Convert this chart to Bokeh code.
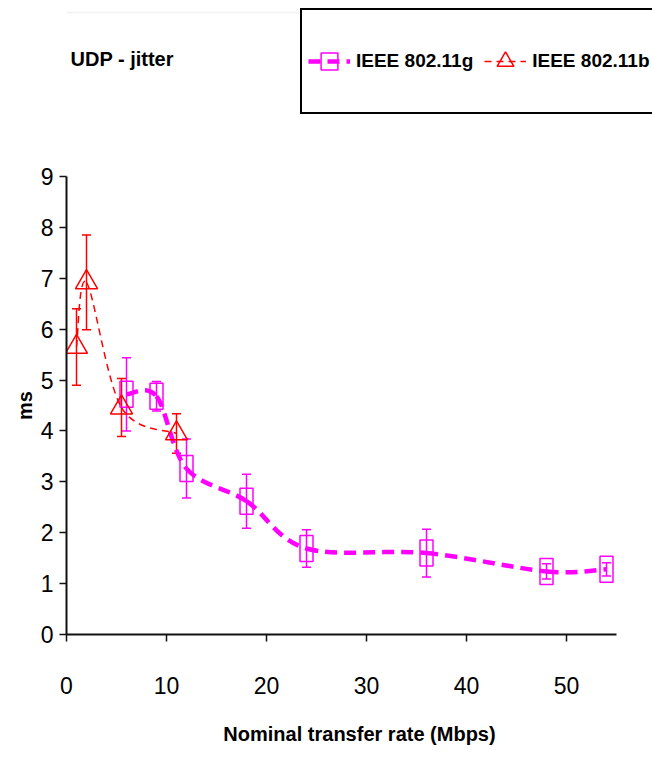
from bokeh.plotting import figure
from bokeh.layouts import column
from bokeh.models import (Range1d, Legend, LegendItem, Whisker, TeeHead, ColumnDataSource,
                          Label, FixedTicker, BoxAnnotation)
from bokeh.embed import file_html
from bokeh.resources import INLINE

# ---- data ----
rate_g = [6, 9, 12, 18, 24, 36, 48, 54]
jitter_g = [4.72, 4.68, 3.26, 2.62, 1.69, 1.60, 1.24, 1.28]
err_g = [0.72, 0.29, 0.58, 0.53, 0.37, 0.47, 0.15, 0.13]

rate_b = [1, 2, 5.5, 11]
jitter_b = [5.65, 6.92, 4.46, 3.95]
err_b = [0.75, 0.93, 0.57, 0.39]

x_ticks = [0, 10, 20, 30, 40, 50]
y_ticks = [0, 1, 2, 3, 4, 5, 6, 7, 8, 9]

title_text = "UDP - jitter"
x_label = "Nominal transfer rate (Mbps)"
y_label = "ms"
name_g = "IEEE 802.11g"
name_b = "IEEE 802.11b"

MAG = "#FF00FF"
RED = "#FF0000"
FONT = "Liberation Sans"
DASH_G = "12 7"
DASH_B = "7 5"


def smooth(xs, ys, t=1 / 6):
    """Bezier control points for an Excel-style smoothed line through the data."""
    n = len(xs)
    out = dict(x0=[], y0=[], x1=[], y1=[], cx0=[], cy0=[], cx1=[], cy1=[])
    for i in range(n - 1):
        p0 = (xs[max(i - 1, 0)], ys[max(i - 1, 0)])
        p1 = (xs[i], ys[i])
        p2 = (xs[i + 1], ys[i + 1])
        p3 = (xs[min(i + 2, n - 1)], ys[min(i + 2, n - 1)])
        out["x0"].append(p1[0]); out["y0"].append(p1[1])
        out["x1"].append(p2[0]); out["y1"].append(p2[1])
        out["cx0"].append(p1[0] + (p2[0] - p0[0]) * t)
        out["cy0"].append(p1[1] + (p2[1] - p0[1]) * t)
        out["cx1"].append(p2[0] - (p3[0] - p1[0]) * t)
        out["cy1"].append(p2[1] - (p3[1] - p1[1]) * t)
    return out


W = 652
LEFT = 66
TOP_H = 156
MAIN_H = 764 - TOP_H

# ================= header: title + legend =================
top = figure(width=W, height=TOP_H, output_backend="svg", toolbar_location=None, title=None,
             x_range=Range1d(LEFT, W), y_range=Range1d(TOP_H, 0),
             x_axis_type=None, y_axis_type=None,
             min_border_left=LEFT, min_border_right=0, min_border_top=0, min_border_bottom=0)
top.outline_line_color = None
top.grid.visible = False
top.background_fill_color = "white"
top.border_fill_color = "white"
# legend-only renderers, mapped through a range that keeps them out of view
top.extra_x_ranges = {"legend": Range1d(1000, 2000)}

# light-gray chart-area border line
top.add_layout(BoxAnnotation(left=0, right=W + 50, top=12, bottom=12,
                             fill_alpha=0, line_color="#d0d0d0", line_width=1.5))

lg_line_g = top.line(x=rate_g, y=jitter_g, x_range_name="legend",
                     line_color=MAG, line_width=4.5, line_dash=DASH_G)
lg_mark_g = top.scatter(x=rate_g, y=jitter_g, x_range_name="legend", marker="square", size=0,
                        fill_color=None, line_color=MAG, line_width=1.5)
lg_line_b = top.line(x=rate_b, y=jitter_b, x_range_name="legend",
                     line_color=RED, line_width=1.5, line_dash=DASH_B)
lg_mark_b = top.scatter(x=rate_b, y=jitter_b, x_range_name="legend", marker="triangle", size=0,
                        fill_color=None, line_color=RED, line_width=1.5)

legend = Legend(items=[LegendItem(label=name_g, renderers=[lg_line_g, lg_mark_g]),
                       LegendItem(label=name_b, renderers=[lg_line_b, lg_mark_b])],
                location=(300 - LEFT, 42), orientation="horizontal",
                glyph_width=42, glyph_height=90, label_height=90,
                label_standoff=6, spacing=11, padding=6, margin=0,
                border_line_color="black", border_line_width=2, border_line_alpha=1,
                background_fill_color="white", background_fill_alpha=1,
                label_text_font=FONT, label_text_font_size="19px",
                label_text_font_style="bold", label_text_color="black")
top.add_layout(legend)

top.add_layout(Label(x=70, y=58, text=title_text, text_baseline="middle",
                     text_font=FONT, text_font_size="20px", text_font_style="bold",
                     text_color="black"))

# ================= main chart =================
p = figure(width=W, height=MAIN_H, output_backend="svg", toolbar_location=None, title=None,
           x_range=Range1d(0, 58.6), y_range=Range1d(0, 9),
           min_border_left=LEFT, min_border_right=0, min_border_top=20, min_border_bottom=130)
p.outline_line_color = None
p.grid.visible = False
p.background_fill_color = "white"
p.border_fill_color = "white"

for ax in (p.xaxis[0], p.yaxis[0]):
    ax.axis_line_width = 2
    ax.axis_line_color = "#111111"
    ax.major_tick_line_width = 1.5
    ax.major_tick_line_color = "#111111"
    ax.major_tick_in = 0
    ax.major_tick_out = 7
    ax.minor_tick_line_color = None
    ax.major_label_text_font = FONT
    ax.major_label_text_font_size = "23px"
    ax.major_label_text_color = "black"
    ax.axis_label_text_font = FONT
    ax.axis_label_text_font_size = "20px"
    ax.axis_label_text_font_style = "bold"
    ax.axis_label_text_color = "black"

p.xaxis.ticker = FixedTicker(ticks=x_ticks)
p.yaxis.ticker = FixedTicker(ticks=y_ticks)
p.xaxis.bounds = (0, 55)
p.xaxis.axis_label = x_label
p.yaxis.axis_label = y_label
p.xaxis.major_label_standoff = 35
p.xaxis.axis_label_standoff = 26
p.yaxis.major_label_standoff = 6
p.yaxis.axis_label_standoff = 2

# ---- 802.11g ----
src_g = ColumnDataSource(dict(x=rate_g, y=jitter_g,
                              upper=[v + e for v, e in zip(jitter_g, err_g)],
                              lower=[v - e for v, e in zip(jitter_g, err_g)]))
p.bezier(source=ColumnDataSource(smooth(rate_g, jitter_g)), x0="x0", y0="y0", x1="x1", y1="y1",
         cx0="cx0", cy0="cy0", cx1="cx1", cy1="cy1",
         line_color=MAG, line_width=4.5, line_dash=DASH_G)
p.add_layout(Whisker(source=src_g, base="x", upper="upper", lower="lower", dimension="height",
                     line_color=MAG, line_width=1.5,
                     upper_head=TeeHead(size=9, line_color=MAG, line_width=1.5),
                     lower_head=TeeHead(size=9, line_color=MAG, line_width=1.5)))
p.rect(x="x", y="y", width=13, height=26, width_units="screen", height_units="screen",
       source=src_g, fill_color=None, line_color=MAG, line_width=1.5)

# ---- 802.11b ----
src_b = ColumnDataSource(dict(x=rate_b, y=jitter_b,
                              upper=[v + e for v, e in zip(jitter_b, err_b)],
                              lower=[v - e for v, e in zip(jitter_b, err_b)]))
p.bezier(source=ColumnDataSource(smooth(rate_b, jitter_b)), x0="x0", y0="y0", x1="x1", y1="y1",
         cx0="cx0", cy0="cy0", cx1="cx1", cy1="cy1",
         line_color=RED, line_width=1.5, line_dash=DASH_B)
p.add_layout(Whisker(source=src_b, base="x", upper="upper", lower="lower", dimension="height",
                     line_color=RED, line_width=1.5,
                     upper_head=TeeHead(size=9, line_color=RED, line_width=1.5),
                     lower_head=TeeHead(size=9, line_color=RED, line_width=1.5)))
p.scatter(x="x", y="y", source=src_b, marker="triangle", size=22,
          fill_color=None, line_color=RED, line_width=1.5)

layout = column(top, p, spacing=0)
open("out.html", "w").write(file_html(layout, INLINE))
